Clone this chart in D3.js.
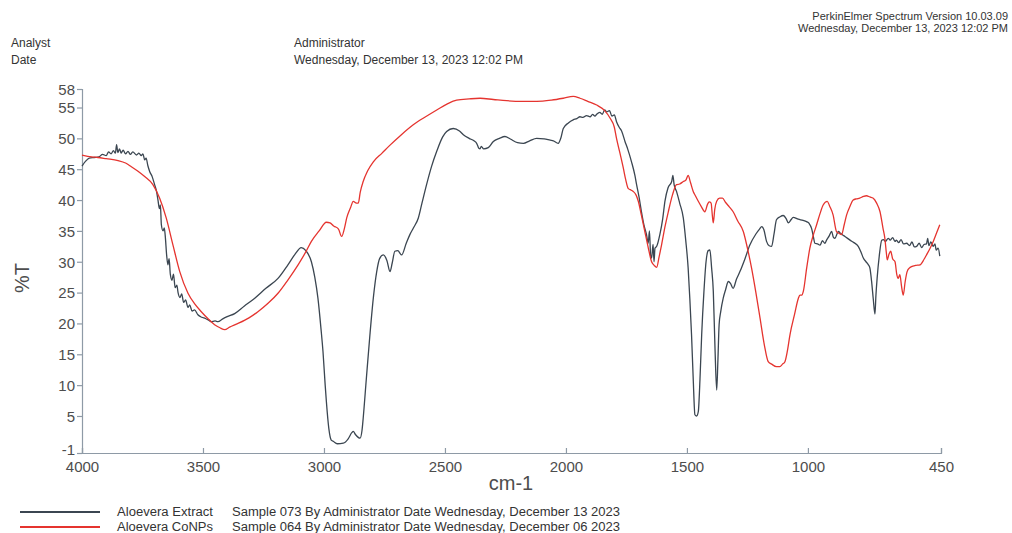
<!DOCTYPE html>
<html>
<head>
<meta charset="utf-8">
<script src="https://cdn.jsdelivr.net/npm/d3@7"></script>
<style>
  html, body { margin: 0; padding: 0; background: #fff; }
  svg { display: block; font-family: "Liberation Sans", Arial, sans-serif; }
</style>
</head>
<body>
<svg id="chart" width="1012" height="533"></svg>
<script>
// FT-IR spectra: [wavenumber (cm-1), %T]
const extract = [
  [4000,45.5],[3985,46.3],[3970,46.8],[3950,46.9],[3930,47.0],[3915,47.4],[3900,47.2],[3890,47.8],
  [3880,47.5],[3870,48.0],[3862,47.6],[3857,49.0],[3852,47.7],[3845,48.3],[3838,47.6],[3830,48.1],
  [3820,47.5],[3810,47.9],[3800,47.4],[3790,47.8],[3775,47.3],[3765,47.6],[3755,47.2],[3748,47.5],
  [3741,46.5],[3735,46.8],[3728,45.6],[3720,44.6],[3710,43.8],[3700,42.5],[3692,41.4],[3686,40.0],
  [3680,38.6],[3676,39.2],[3672,36.0],[3665,35.0],[3660,35.5],[3656,34.2],[3650,31.0],[3645,29.5],
  [3640,30.5],[3635,28.0],[3628,27.0],[3622,28.0],[3615,25.8],[3608,26.2],[3603,25.0],[3595,24.2],
  [3588,24.8],[3580,23.4],[3572,23.8],[3562,22.6],[3555,23.0],[3545,22.0],[3535,22.2],[3521,21.4],
  [3505,21.0],[3490,20.8],[3475,20.5],[3466,20.3],[3450,20.4],[3438,20.3],[3420,20.7],[3400,21.1],
  [3369,21.6],[3330,22.8],[3286,24.1],[3240,25.7],[3190,27.3],[3149,29.5],[3120,31.2],[3094,32.3],
  [3075,31.8],[3052,30.0],[3038,27.5],[3025,24.1],[3012,19.0],[3004,15.4],[2995,10.0],[2990,7.3],
  [2980,3.0],[2970,1.1],[2962,0.9],[2945,0.5],[2920,0.6],[2900,1.3],[2885,2.3],[2879,2.5],
  [2870,2.0],[2851,1.4],[2843,2.6],[2838,4.6],[2825,11.0],[2810,18.2],[2795,24.5],[2782,28.4],
  [2770,30.5],[2755,31.1],[2740,30.2],[2727,28.4],[2718,29.8],[2707,31.7],[2695,31.8],[2679,31.1],
  [2660,33.0],[2645,34.4],[2630,35.5],[2610,37.1],[2595,39.5],[2576,42.5],[2555,45.5],[2534,47.9],
  [2510,50.2],[2493,51.1],[2466,51.6],[2440,51.2],[2424,50.6],[2400,50.0],[2380,49.6],[2369,49.2],
  [2360,48.4],[2355,48.3],[2350,48.7],[2340,48.3],[2321,48.5],[2300,49.5],[2275,50.0],[2252,50.3],
  [2230,49.9],[2200,49.3],[2176,49.2],[2150,49.6],[2121,50.0],[2090,49.9],[2065,49.7],[2052,49.6],
  [2032,49.2],[2020,50.2],[2011,51.6],[1990,52.5],[1970,53.0],[1955,53.2],[1942,53.5],[1930,53.4],
  [1915,53.7],[1900,53.5],[1890,53.9],[1880,53.6],[1873,53.9],[1860,54.2],[1850,53.9],[1840,54.6],
  [1832,54.3],[1820,54.5],[1810,53.6],[1800,53.8],[1791,52.7],[1780,51.8],[1770,51.2],[1756,49.5],
  [1745,48.3],[1729,46.2],[1715,44.0],[1708,42.5],[1698,40.5],[1688,38.1],[1678,36.0],[1667,34.4],
  [1660,33.0],[1655,35.0],[1650,31.0],[1646,30.6],[1640,32.8],[1636,30.0],[1632,32.2],[1625,32.5],
  [1612,34.4],[1600,37.0],[1591,39.8],[1578,42.0],[1563,43.0],[1558,44.0],[1553,42.5],[1543,41.4],
  [1530,39.5],[1515,37.1],[1505,33.5],[1495,29.0],[1488,24.0],[1481,18.2],[1474,11.0],[1467,5.2],
  [1460,5.0],[1453,5.7],[1446,11.0],[1439,18.2],[1430,25.0],[1421,30.0],[1412,31.8],[1405,31.9],
  [1398,29.0],[1391,25.2],[1384,16.0],[1377,9.2],[1372,14.0],[1367,19.8],[1360,22.0],[1350,24.1],
  [1340,25.5],[1329,26.8],[1320,26.5],[1309,25.7],[1295,27.2],[1281,28.4],[1260,30.5],[1240,32.7],
  [1215,34.5],[1200,35.3],[1191,35.7],[1182,35.2],[1171,33.3],[1160,32.6],[1150,32.5],[1140,34.5],
  [1130,36.8],[1115,37.3],[1102,37.5],[1090,37.0],[1081,36.3],[1070,36.8],[1061,37.2],[1040,36.9],
  [1020,36.7],[1006,36.5],[995,36.2],[985,35.4],[978,34.2],[971,33.0],[960,32.9],[950,32.7],
  [940,33.4],[930,33.0],[923,33.5],[912,34.2],[902,34.9],[895,34.0],[888,33.8],[880,34.5],
  [874,34.9],[865,34.6],[855,34.3],[847,34.1],[826,33.5],[810,33.1],[792,32.5],[780,31.5],
  [771,30.6],[760,30.0],[750,29.5],[744,29.0],[736,26.5],[730,24.0],[723,21.5],[719,24.5],
  [714,27.3],[705,31.0],[695,33.5],[688,33.6],[680,33.3],[668,33.8],[660,33.5],[650,33.9],
  [640,33.3],[634,33.5],[625,33.1],[615,33.6],[605,32.9],[592,33.0],[580,32.6],[570,33.2],
  [560,32.4],[551,32.5],[540,33.0],[530,32.3],[520,32.8],[510,32.9],[505,33.8],[500,32.6],
  [492,33.2],[482,32.5],[475,32.9],[470,31.9],[462,32.2],[455,30.9]
];

const conps = [
  [4000,47.3],[3960,47.0],[3934,46.9],[3900,46.7],[3851,46.4],[3820,46.0],[3796,45.4],[3770,44.7],
  [3741,43.8],[3707,42.5],[3679,40.3],[3652,37.1],[3624,32.7],[3596,28.4],[3562,24.9],[3535,23.2],
  [3507,21.9],[3480,20.8],[3452,19.8],[3430,19.3],[3410,19.0],[3390,19.4],[3355,20.0],[3310,20.9],
  [3273,21.9],[3230,23.3],[3190,24.9],[3150,27.0],[3107,29.5],[3075,31.6],[3052,33.3],[3020,35.0],
  [2990,36.4],[2975,36.3],[2960,35.8],[2955,35.7],[2940,35.3],[2927,34.1],[2915,35.5],[2906,37.1],
  [2890,38.8],[2879,39.8],[2866,39.5],[2858,39.5],[2850,41.3],[2838,43.0],[2820,44.7],[2796,46.2],
  [2760,47.6],[2727,48.9],[2680,50.6],[2631,52.2],[2580,53.5],[2534,54.6],[2490,55.6],[2452,56.2],
  [2400,56.4],[2355,56.5],[2300,56.3],[2245,56.1],[2180,56.0],[2121,56.0],[2060,56.2],[2011,56.5],
  [1970,56.8],[1942,56.5],[1910,56.0],[1873,55.4],[1840,54.5],[1818,53.3],[1800,51.8],[1791,50.0],
  [1778,47.8],[1763,45.2],[1753,43.3],[1743,41.9],[1730,41.6],[1722,41.4],[1710,40.8],[1701,39.8],
  [1688,37.5],[1674,34.9],[1660,32.3],[1646,30.0],[1635,29.4],[1625,29.1],[1615,30.8],[1605,32.7],
  [1590,35.8],[1577,38.1],[1560,40.8],[1543,42.5],[1530,42.6],[1515,43.0],[1505,43.2],[1495,44.0],
  [1485,42.8],[1474,41.4],[1465,40.7],[1453,39.8],[1440,38.9],[1426,38.1],[1415,39.3],[1408,39.7],
  [1400,39.5],[1395,37.5],[1391,36.3],[1385,38.5],[1377,39.8],[1365,40.3],[1353,40.3],[1340,39.6],
  [1325,38.9],[1309,38.1],[1290,36.6],[1267,34.9],[1250,32.2],[1233,29.0],[1215,25.0],[1198,20.9],
  [1180,16.5],[1164,13.8],[1150,13.4],[1130,13.0],[1116,13.0],[1105,13.4],[1095,13.8],[1085,15.5],
  [1074,18.2],[1055,21.5],[1040,24.0],[1033,24.6],[1025,24.6],[1019,25.2],[1005,29.0],[992,32.2],
  [978,34.3],[964,36.0],[950,37.8],[937,39.2],[920,39.8],[910,39.0],[896,37.6],[882,34.9],
  [871,34.6],[861,34.4],[850,36.0],[840,37.6],[826,39.0],[813,40.0],[800,40.2],[786,40.3],
  [770,40.6],[758,40.7],[744,40.5],[730,40.3],[716,39.5],[702,38.1],[690,35.5],[682,33.8],
  [676,31.5],[672,30.3],[665,31.2],[658,31.7],[650,30.5],[640,30.0],[633,28.0],[627,27.3],
  [620,27.9],[613,26.0],[606,24.6],[598,26.8],[590,28.4],[580,29.0],[572,29.2],[555,29.4],
  [537,29.5],[520,30.4],[510,31.1],[495,32.2],[482,33.3],[468,34.7],[455,36.0]
];

const xTicks = [4000, 3500, 3000, 2500, 2000, 1500, 1000, 450];
const yTicks = [58, 55, 50, 45, 40, 35, 30, 25, 20, 15, 10, 5, -1];

const seriesNames = ["Aloevera Extract", "Aloevera CoNPs"];
const seriesInfo = [
  "Sample 073 By Administrator Date Wednesday, December 13 2023",
  "Sample 064 By Administrator Date Wednesday, December 06 2023"
];
const seriesColors = ["#3b4651", "#e5342f"];

const svg = d3.select("#chart");
const textColor = "#4d4d4d";
const axisColor = "#8e9aa6";

// header block
svg.append("text").attr("x", 11).attr("y", 47).attr("font-size", 12).attr("fill", "#333").text("Analyst");
svg.append("text").attr("x", 11).attr("y", 64).attr("font-size", 12).attr("fill", "#333").text("Date");
svg.append("text").attr("x", 294).attr("y", 47).attr("font-size", 12).attr("fill", "#333").text("Administrator");
svg.append("text").attr("x", 294).attr("y", 64).attr("font-size", 12).attr("fill", "#333")
  .text("Wednesday, December 13, 2023 12:02 PM");
svg.append("text").attr("x", 1008).attr("y", 20).attr("font-size", 11).attr("fill", "#333")
  .attr("text-anchor", "end").text("PerkinElmer Spectrum Version 10.03.09");
svg.append("text").attr("x", 1008).attr("y", 32).attr("font-size", 11).attr("fill", "#333")
  .attr("text-anchor", "end").text("Wednesday, December 13, 2023 12:02 PM");

// scales
const x = d3.scaleLinear().domain([4000, 450]).range([82, 941]);
const y = d3.scaleLinear().domain([-1, 58]).range([453, 89]);

// axes (plain hyphen for negative labels)
const fmt = d => String(d);
const xAxis = d3.axisBottom(x).tickValues(xTicks).tickSize(-5).tickPadding(8).tickFormat(fmt);
const yAxis = d3.axisLeft(y).tickValues(yTicks).tickSize(5).tickPadding(2).tickFormat(fmt);

const gx = svg.append("g").attr("transform", `translate(0,${y(-1)})`).call(xAxis);
const gy = svg.append("g").attr("transform", `translate(${x(4000)},0)`).call(yAxis);

[gx, gy].forEach(g => {
  g.select(".domain").attr("stroke", axisColor).attr("stroke-width", 1.2);
  g.selectAll(".tick line").attr("stroke", axisColor).attr("stroke-width", 1.2);
  g.selectAll(".tick text").attr("fill", textColor).attr("font-size", 15)
    .attr("font-family", "\"Liberation Sans\", Arial, sans-serif");
});
gy.selectAll(".tick text").attr("dy", "0.36em");
// lift the lowest y label a little so it clears the first x label
gy.selectAll(".tick text").filter(d => d === -1).attr("dy", "0.1em");

// axis titles
svg.append("text").attr("x", 511).attr("y", 490).attr("text-anchor", "middle")
  .attr("font-size", 20).attr("fill", textColor).text("cm-1");
svg.append("text").attr("transform", "translate(29,278) rotate(-90)").attr("text-anchor", "middle")
  .attr("font-size", 20).attr("fill", textColor).text("%T");

// spectra
const line = d3.line().x(d => x(d[0])).y(d => y(d[1])).curve(d3.curveMonotoneX);
[extract, conps].forEach((data, i) => {
  svg.append("path").datum(data).attr("fill", "none")
    .attr("stroke", seriesColors[i]).attr("stroke-width", 1.3)
    .attr("stroke-linejoin", "round").attr("d", line);
});

// legend
seriesNames.forEach((name, i) => {
  const ly = 512 + i * 15;
  svg.append("line").attr("x1", 20).attr("x2", 100).attr("y1", ly).attr("y2", ly)
    .attr("stroke", seriesColors[i]).attr("stroke-width", 2);
  svg.append("text").attr("x", 117).attr("y", ly + 4).attr("font-size", 12)
    .attr("fill", "#333").attr("textLength", 96).attr("lengthAdjust", "spacingAndGlyphs").text(name);
  svg.append("text").attr("x", 232).attr("y", ly + 4).attr("font-size", 12)
    .attr("fill", "#333").attr("textLength", 388).attr("lengthAdjust", "spacingAndGlyphs").text(seriesInfo[i]);
});
</script>
</body>
</html>
